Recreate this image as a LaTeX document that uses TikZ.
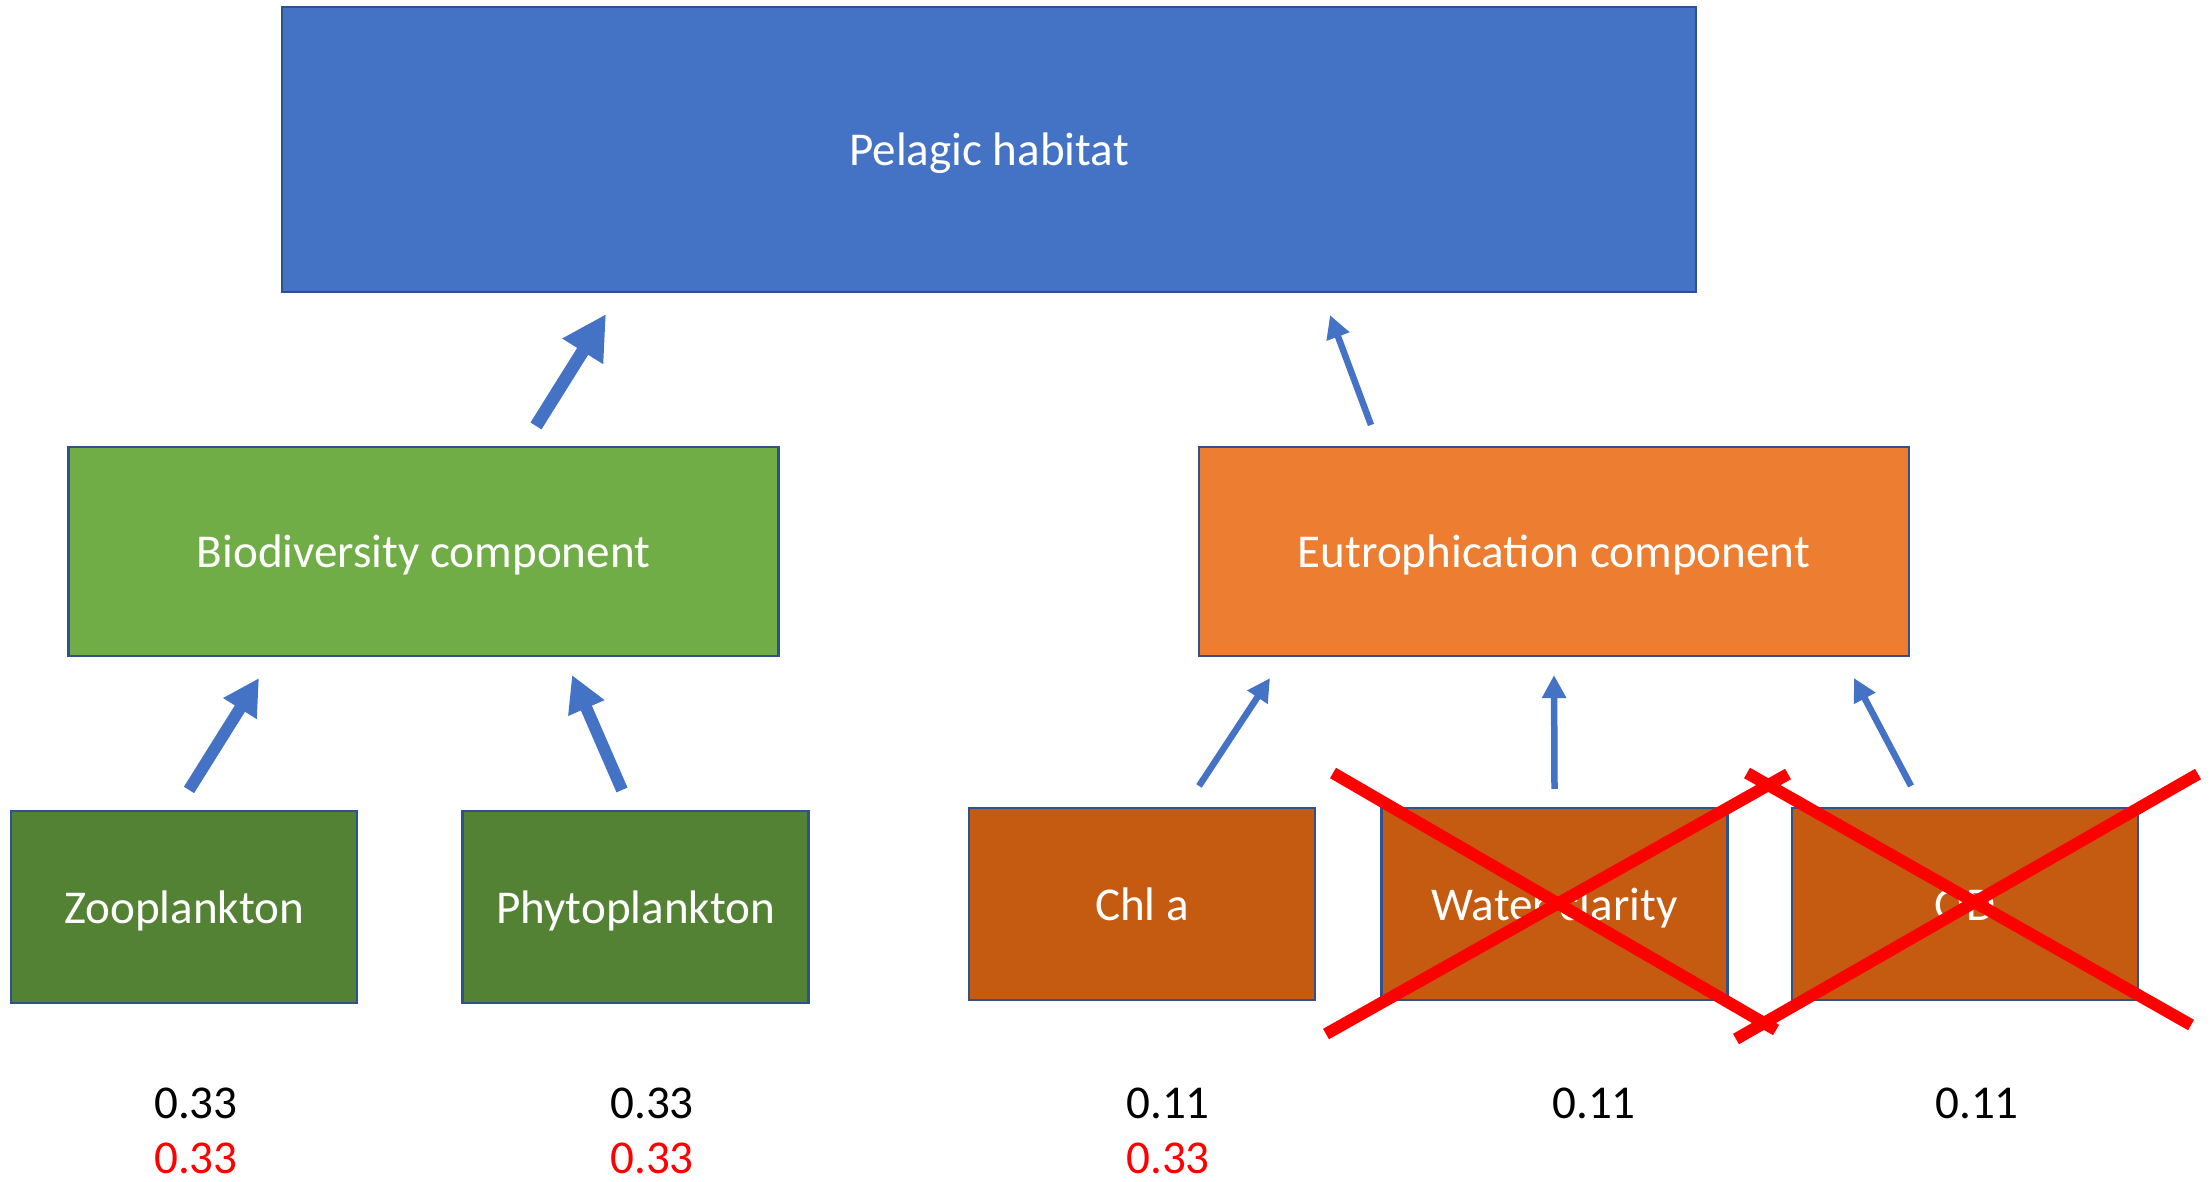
\documentclass[tikz,border=0pt]{standalone}
\usepackage{fontspec}
\setmainfont{Carlito}
\usetikzlibrary{arrows.meta}

\definecolor{officeblue}{HTML}{4472C4}
\definecolor{edgeblue}{HTML}{2F528F}
\definecolor{biogreen}{HTML}{70AD47}
\definecolor{eutroorange}{HTML}{ED7D31}
\definecolor{darkgreen}{HTML}{548235}
\definecolor{darkorange}{HTML}{C55A11}

\begin{document}
\begin{tikzpicture}[
    font=\fontsize{13.4}{16}\selectfont,
    box/.style={draw=edgeblue, line width=0.6pt, text=white, inner sep=0pt,
        text height=0.92em, text depth=0pt},
    leaf/.style={box, minimum width=3.46cm, minimum height=1.92cm},
    part/.style={box, minimum width=7.1cm, minimum height=2.09cm},
    weight/.style={inner sep=0pt},
    bigarrow/.style={officeblue, line width=0.12cm, -{Triangle[length=0.36cm, width=0.37cm]}},
    smallarrow/.style={officeblue, line width=0.065cm, -{Triangle[length=0.23cm, width=0.23cm]}},
    cross/.style={red, line width=0.12cm}
]
    \useasboundingbox (0,0) rectangle (22.12,-11.81);

    % top level
    \node[box, fill=officeblue, minimum width=14.14cm, minimum height=2.85cm]
        (pelagic) at (9.89,-1.495) {Pelagic habitat};

    % components
    \node[part, fill=biogreen] (bio) at (4.235,-5.515) {Biodiversity component};
    \node[part, fill=eutroorange] (eutro) at (15.54,-5.515) {Eutrophication component};

    % indicators
    \node[leaf, fill=darkgreen] (zoo) at (1.84,-9.07) {Zooplankton};
    \node[leaf, fill=darkgreen] (phyto) at (6.355,-9.07) {Phytoplankton};
    \node[leaf, fill=darkorange] (chla) at (11.42,-9.04) {Chl a};
    \node[leaf, fill=darkorange] (water) at (15.545,-9.04) {Water clarity};
    \node[leaf, fill=darkorange] (od) at (19.65,-9.04) {OD};

    % arrows
    \draw[bigarrow, line width=0.13cm, -{Triangle[length=0.44cm, width=0.45cm]}]
        ([shift={(1.125,0.2)}]bio.north) -- ([shift={(-3.83,-0.21)}]pelagic.south);
    \draw[smallarrow] ([shift={(-1.83,0.21)}]eutro.north) -- ([shift={(3.41,-0.22)}]pelagic.south);
    \draw[bigarrow] ([shift={(0.05,0.2)}]zoo.north) -- ([shift={(-1.645,-0.21)}]bio.south);
    \draw[bigarrow] ([shift={(-0.135,0.2)}]phyto.north) -- ([shift={(1.485,-0.18)}]bio.south);
    \draw[smallarrow] ([shift={(0.57,0.21)}]chla.north) -- ([shift={(-2.84,-0.21)}]eutro.south);
    \draw[smallarrow] ([shift={(0,0.18)}]water.north) -- ([shift={(0,-0.18)}]eutro.south);
    \draw[smallarrow] ([shift={(-0.54,0.21)}]od.north) -- ([shift={(3.0,-0.21)}]eutro.south);

    % dropped indicators
    \draw[cross] (13.33,-7.73) -- (17.76,-10.30);
    \draw[cross] (13.26,-10.34) -- (17.88,-7.74);
    \draw[cross] (17.47,-7.73) -- (21.91,-10.25);
    \draw[cross] (17.36,-10.39) -- (21.98,-7.74);

    % weights
    \foreach \x/\v [count=\i] in {1.96/0.33,6.52/0.33,11.68/0.11,15.94/0.11,19.77/0.11}
        {\node[weight] (wa\i) at (\x,-11.03) {\v};}
    \foreach \x/\v [count=\i] in {1.96/0.33,6.52/0.33,11.68/0.33}
        {\node[weight, red] (wb\i) at (\x,-11.58) {\v};}
\end{tikzpicture}
\end{document}
